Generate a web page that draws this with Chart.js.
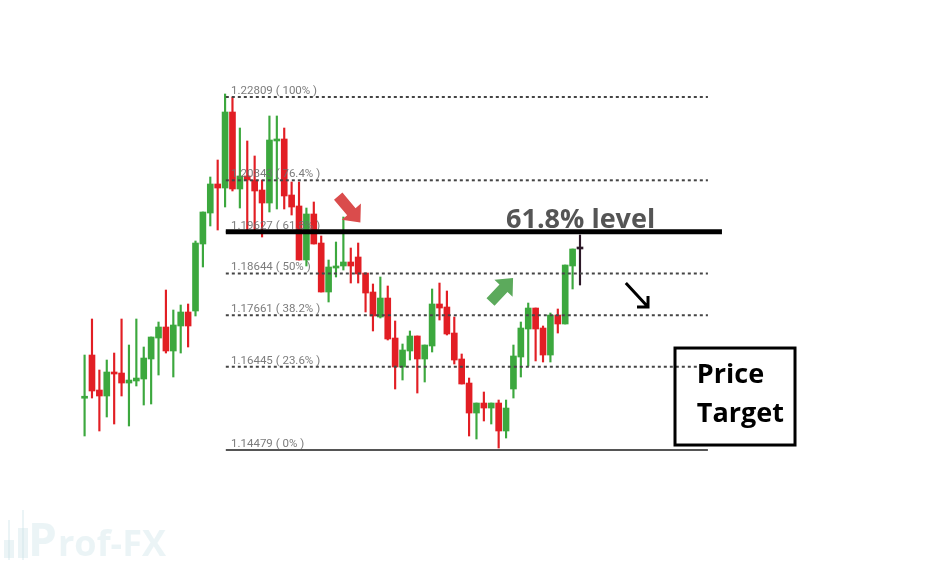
<!DOCTYPE html>
<html>
<head>
<meta charset="utf-8">
<script src="https://cdn.jsdelivr.net/npm/chart.js@4.4.0/dist/chart.umd.min.js"></script>
<style>
  html, body { margin: 0; padding: 0; background: #ffffff; }
  #wrap { position: relative; width: 944px; height: 571px; }
</style>
</head>
<body>
<div id="wrap"><canvas id="fibChart" width="944" height="571"></canvas></div>
<script>
// Données des bougies
const opens = [
  1.15700, 1.16720, 1.15894, 1.15753, 1.16319, 1.16295, 1.16059, 1.16107, 1.16154, 1.16626,
  1.17121, 1.17381, 1.16815, 1.17405, 1.17735, 1.17759, 1.19340, 1.20071, 1.20756, 1.20661,
  1.22455, 1.20638, 1.20945, 1.20850, 1.20614, 1.20307, 1.21771, 1.21818, 1.20496, 1.20237,
  1.18962, 1.20048, 1.19363, 1.18207, 1.18773, 1.18821, 1.18915, 1.19033, 1.18655, 1.18207,
  1.17617, 1.18065, 1.17121, 1.16437, 1.16815, 1.17169, 1.16626, 1.16933, 1.17924, 1.17853,
  1.17239, 1.16626, 1.16059, 1.15351, 1.15587, 1.15469, 1.15587, 1.14927, 1.15918, 1.16673,
  1.17334, 1.17829, 1.17357, 1.16720, 1.17664, 1.17452, 1.18821, 1.19222
];
const highs = [
  1.16720, 1.17570, 1.16366, 1.16602, 1.16767, 1.17570, 1.16956, 1.17570, 1.16909, 1.17145,
  1.17499, 1.18254, 1.17782, 1.17900, 1.17924, 1.19411, 1.20095, 1.20921, 1.21322, 1.22880,
  1.22809, 1.22077, 1.21771, 1.21417, 1.20850, 1.22361, 1.22361, 1.22077, 1.20803, 1.20803,
  1.20189, 1.20331, 1.19529, 1.18962, 1.19387, 1.19977, 1.19245, 1.19363, 1.18655, 1.18396,
  1.18561, 1.18349, 1.17523, 1.16980, 1.17287, 1.17169, 1.16956, 1.18278, 1.18419, 1.18231,
  1.17617, 1.16744, 1.16177, 1.15587, 1.15847, 1.15587, 1.15658, 1.15658, 1.16956, 1.17499,
  1.17947, 1.17829, 1.17405, 1.17711, 1.17806, 1.18844, 1.19222, 1.19552
];
const lows = [
  1.14809, 1.15705, 1.14927, 1.15257, 1.15092, 1.15753, 1.15045, 1.15989, 1.15540, 1.15564,
  1.16248, 1.16767, 1.16201, 1.16767, 1.16909, 1.17641, 1.18797, 1.19765, 1.19670, 1.20213,
  1.20591, 1.20189, 1.19647, 1.19670, 1.19505, 1.20095, 1.20166, 1.20166, 1.20024, 1.18962,
  1.18821, 1.19340, 1.18207, 1.17971, 1.18561, 1.18726, 1.18419, 1.18419, 1.17735, 1.17287,
  1.17593, 1.17074, 1.15918, 1.16130, 1.16602, 1.15823, 1.16083, 1.16791, 1.17546, 1.17192,
  1.16508, 1.16036, 1.14809, 1.14738, 1.15163, 1.15092, 1.14525, 1.14761, 1.15705, 1.16201,
  1.16461, 1.16580, 1.16555, 1.16555, 1.17239, 1.17452, 1.18278, 1.18372
];
const closes = [
  1.15720, 1.15871, 1.15753, 1.16319, 1.16272, 1.16059, 1.16130, 1.16177, 1.16649, 1.17145,
  1.17381, 1.16815, 1.17428, 1.17735, 1.17405, 1.19363, 1.20095, 1.20756, 1.20661, 1.22455,
  1.20638, 1.20945, 1.20850, 1.20591, 1.20307, 1.21794, 1.21818, 1.20473, 1.20213, 1.18962,
  1.20048, 1.19340, 1.18207, 1.18797, 1.18821, 1.18915, 1.18821, 1.18632, 1.18183, 1.17641,
  1.18065, 1.17098, 1.16437, 1.16838, 1.17169, 1.16626, 1.16956, 1.17924, 1.17829, 1.17216,
  1.16602, 1.16036, 1.15351, 1.15587, 1.15469, 1.15587, 1.14927, 1.15469, 1.16697, 1.17357,
  1.17829, 1.17334, 1.16720, 1.17664, 1.17452, 1.18844, 1.19222, 1.19222
];

// Niveaux de Fibonacci
const fibLevels = [1.22809, 1.20843, 1.19627, 1.18644, 1.17661, 1.16445, 1.14479];
const fibPercents = ['100%', '76.4%', '61.8%', '50%', '38.2%', '23.6%', '0%'];
const keyLevel = 1.19627;

const GREEN = 'rgb(60, 168, 62)';
const RED = 'rgb(226, 30, 36)';
const DOJI = 'rgb(45, 25, 40)';

// Positions horizontales (en index de bougie)
const fibStart = 20.1;
const fibEnd = 85.3;
const keyEnd = 87.2;

const candleColors = opens.map((o, i) => {
  if (closes[i] > o) return GREEN;
  if (closes[i] < o) return RED;
  return DOJI;
});

const wickData = opens.map((o, i) => ({ x: i + 1, y: [lows[i], highs[i]] }));
const bodyData = opens.map((o, i) => ({ x: i + 1, y: [o, closes[i]] }));

const fibLineDatasets = fibLevels.map((lvl, i) => ({
  type: 'line',
  data: [{ x: fibStart, y: lvl }, { x: fibEnd, y: lvl }],
  borderColor: i === fibLevels.length - 1 ? '#555555' : '#444444',
  borderWidth: 2,
  borderDash: i === fibLevels.length - 1 ? [] : [3, 3],
  pointRadius: 0,
  fill: false,
  order: 1
}));

// Plugin pour les textes et les flèches
const overlayPlugin = {
  id: 'overlay',
  beforeDatasetsDraw(chart) {
    const ctx = chart.ctx;
    ctx.save();
    // filigrane
    ctx.fillStyle = 'rgba(205, 228, 232, 0.4)';
    ctx.fillRect(8, 520, 2, 40);
    ctx.fillRect(22, 510, 2, 50);
    ctx.fillRect(4, 540, 10, 18);
    ctx.fillRect(18, 528, 10, 30);
    ctx.font = 'bold 46px "Open Sans"';
    ctx.fillText('P', 28, 556);
    ctx.font = 'bold 36px "Open Sans"';
    ctx.fillText('rof-FX', 58, 556);
    ctx.restore();
  },
  afterDatasetsDraw(chart) {
    const ctx = chart.ctx;
    const xs = chart.scales.x;
    const ys = chart.scales.y;
    const px = v => xs.getPixelForValue(v);
    const py = v => ys.getPixelForValue(v);
    ctx.save();

    // étiquettes des niveaux
    ctx.font = '11.5px Roboto';
    ctx.fillStyle = 'rgba(110, 110, 110, 0.9)';
    ctx.textBaseline = 'alphabetic';
    fibLevels.forEach((lvl, i) => {
      ctx.fillText(lvl.toFixed(5) + ' ( ' + fibPercents[i] + ' )', px(20.8), py(lvl) - 3);
    });

    // ligne noire du 61.8%
    ctx.strokeStyle = '#000000';
    ctx.lineWidth = 5;
    ctx.beginPath();
    ctx.moveTo(px(fibStart), py(keyLevel));
    ctx.lineTo(px(keyEnd), py(keyLevel));
    ctx.stroke();

    ctx.font = 'bold 27px "Open Sans"';
    ctx.fillStyle = '#555555';
    ctx.fillText('61.8% level', px(58.0), py(keyLevel) - 4);

    // flèches pleines
    blockArrow(ctx, px(35.3), py(1.20470), px(38.3), py(1.19850), 'rgb(218, 76, 76)');
    blockArrow(ctx, px(55.9), py(1.17971), px(58.95), py(1.18537), 'rgb(92, 170, 92)');

    // flèche noire
    const ax1 = px(74.2), ay1 = py(1.18420), ax2 = px(77.2), ay2 = py(1.17852);
    ctx.strokeStyle = '#000000';
    ctx.lineWidth = 3;
    ctx.beginPath();
    ctx.moveTo(ax1, ay1);
    ctx.lineTo(ax2, ay2);
    ctx.moveTo(ax2 - 11, ay2);
    ctx.lineTo(ax2, ay2);
    ctx.lineTo(ax2, ay2 - 11);
    ctx.stroke();

    // boîte Price Target
    const bx1 = px(80.85), by1 = py(1.16885), bx2 = px(97.08), by2 = py(1.14596);
    ctx.lineWidth = 3;
    ctx.strokeRect(bx1, by1, bx2 - bx1, by2 - by1);
    ctx.fillStyle = '#000000';
    ctx.font = 'bold 27px "Open Sans"';
    ctx.fillText('Price', px(83.8), py(1.16885) + 35);
    ctx.fillText('Target', px(83.8), py(1.16885) + 74);

    ctx.restore();
  }
};

function blockArrow(ctx, x1, y1, x2, y2, color) {
  const ang = Math.atan2(y2 - y1, x2 - x1);
  const len = Math.hypot(x2 - x1, y2 - y1);
  const shaft = 11, head = 25, headLen = 14;
  ctx.save();
  ctx.translate(x1, y1);
  ctx.rotate(ang);
  ctx.fillStyle = color;
  ctx.beginPath();
  ctx.moveTo(0, -shaft / 2);
  ctx.lineTo(len - headLen, -shaft / 2);
  ctx.lineTo(len - headLen, -head / 2);
  ctx.lineTo(len, 0);
  ctx.lineTo(len - headLen, head / 2);
  ctx.lineTo(len - headLen, shaft / 2);
  ctx.lineTo(0, shaft / 2);
  ctx.closePath();
  ctx.fill();
  ctx.restore();
}

const ctx = document.getElementById('fibChart');

new Chart(ctx, {
  type: 'bar',
  data: {
    datasets: [
      ...fibLineDatasets,
      {
        label: 'corps',
        data: bodyData,
        backgroundColor: candleColors,
        barThickness: 6,
        minBarLength: 2,
        grouped: false,
        order: 2
      },
      {
        label: 'mèches',
        data: wickData,
        backgroundColor: candleColors,
        barThickness: 1.5,
        grouped: false,
        order: 3
      }
    ]
  },
  options: {
    responsive: false,
    animation: false,
    devicePixelRatio: 1,
    layout: { padding: 0 },
    scales: {
      x: {
        type: 'linear',
        min: -10.44,
        max: 117.23,
        offset: false,
        display: false
      },
      y: {
        type: 'linear',
        min: 1.11623,
        max: 1.25098,
        beginAtZero: false,
        display: false
      }
    },
    plugins: {
      legend: { display: false },
      tooltip: { enabled: false }
    }
  },
  plugins: [overlayPlugin]
});
</script>
</body>
</html>
